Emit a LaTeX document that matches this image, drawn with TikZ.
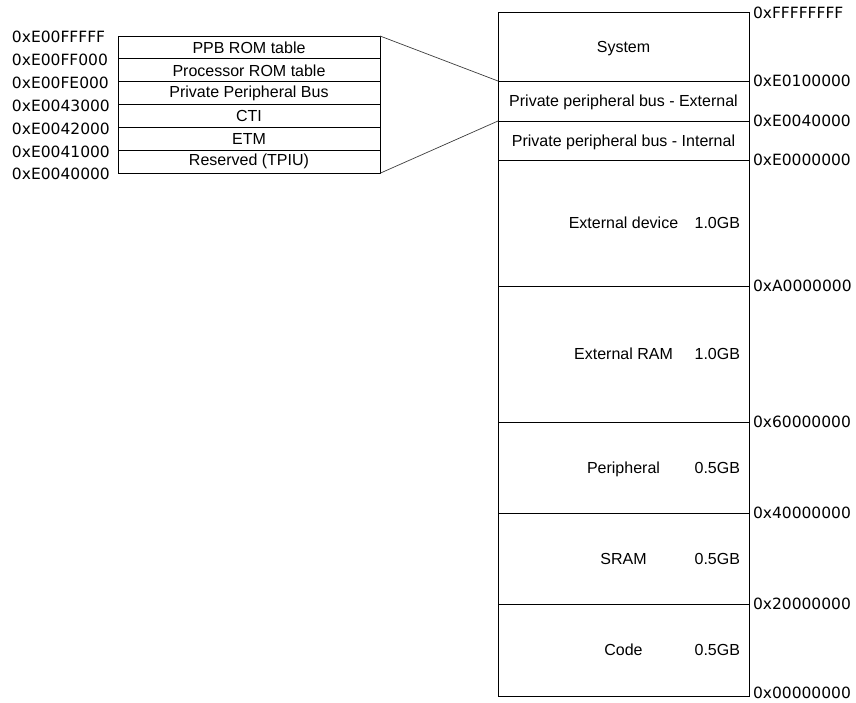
\documentclass[tikz,border=0pt]{standalone}
\usepackage{fontspec}
\setmainfont{Liberation Sans}
\newfontfamily\hexfont{DejaVu Sans}
\usetikzlibrary{positioning}
\definecolor{mapink}{HTML}{000000}
\definecolor{maplink}{HTML}{3C3C3C}

\begin{document}
\begin{tikzpicture}[x=1pt, y=-1pt,
                    every node/.style={mapink, inner sep=0pt, outer sep=0pt,
                                       font=\fontsize{16}{18}\selectfont},
                    region/.style={draw=mapink, line width=0.9pt, rectangle,
                                   minimum width=251pt, anchor=north west, text depth=0pt},
                    ppbrow/.style={draw=mapink, line width=0.9pt, rectangle,
                                   minimum width=262pt, minimum height=22.88pt,
                                   anchor=north west},
                    addr/.style={font=\hexfont\fontsize{15.5}{17}\selectfont, anchor=west},
                    sizelabel/.style={anchor=east, text depth=0pt},
                    link/.style={maplink, line width=0.7pt}]

  \useasboundingbox (0,0) rectangle (856,702);

  %% memory map, top to bottom
  \foreach \nm/\top/\bot/\txt in {sys/12.7/81/System,
      ppbext/81/121/Private peripheral bus - External,
      ppbint/121/160/Private peripheral bus - Internal,
      extdev/160/286/External device,
      extram/286/422/External RAM,
      periph/422/513/Peripheral,
      sram/513/604/SRAM,
      code/604/696/Code}
    \node[region, minimum height={\bot-\top}] (\nm) at (498,\top) {\txt};

  %% region sizes
  \foreach \nm/\sz in {extdev/1.0GB, extram/1.0GB, periph/0.5GB, sram/0.5GB, code/0.5GB}
    \node[sizelabel] at ([xshift=-9pt]\nm.east) {\sz};

  %% addresses on the right
  \node[addr] at ([xshift=4pt]sys.north east) {0xFFFFFFFF};
  \foreach \nm/\ad in {sys/0xE0100000, ppbext/0xE0040000, ppbint/0xE0000000,
      extdev/0xA0000000, extram/0x60000000, periph/0x40000000,
      sram/0x20000000}
    \node[addr] at ([xshift=4pt]\nm.south east) {\ad};
  \node[addr] at ([xshift=4pt, yshift=3pt]code.south east) {0x00000000};

  %% private peripheral bus, expanded
  \foreach \nm/\i/\txt in {romppb/0/PPB ROM table, romcpu/1/Processor ROM table,
      ppbus/2/Private Peripheral Bus, cti/3/CTI, etm/4/ETM, tpiu/5/Reserved (TPIU)}
    \node[ppbrow] (\nm) at (118,{36+\i*22.88}) {\txt};

  \coordinate (leftcol) at (12,0);
  \node[addr] at ([yshift=-1pt]romppb.north west -| leftcol) {0xE00FFFFF};
  \foreach \nm/\ad in {romppb/0xE00FF000, romcpu/0xE00FE000, ppbus/0xE0043000,
      cti/0xE0042000, etm/0xE0041000, tpiu/0xE0040000}
    \node[addr] at ([yshift=-1pt]\nm.south west -| leftcol) {\ad};

  %% zoom lines
  \draw[link] (romppb.north east) -- (ppbext.north west);
  \draw[link] (tpiu.south east) -- (ppbext.south west);

\end{tikzpicture}
\end{document}
